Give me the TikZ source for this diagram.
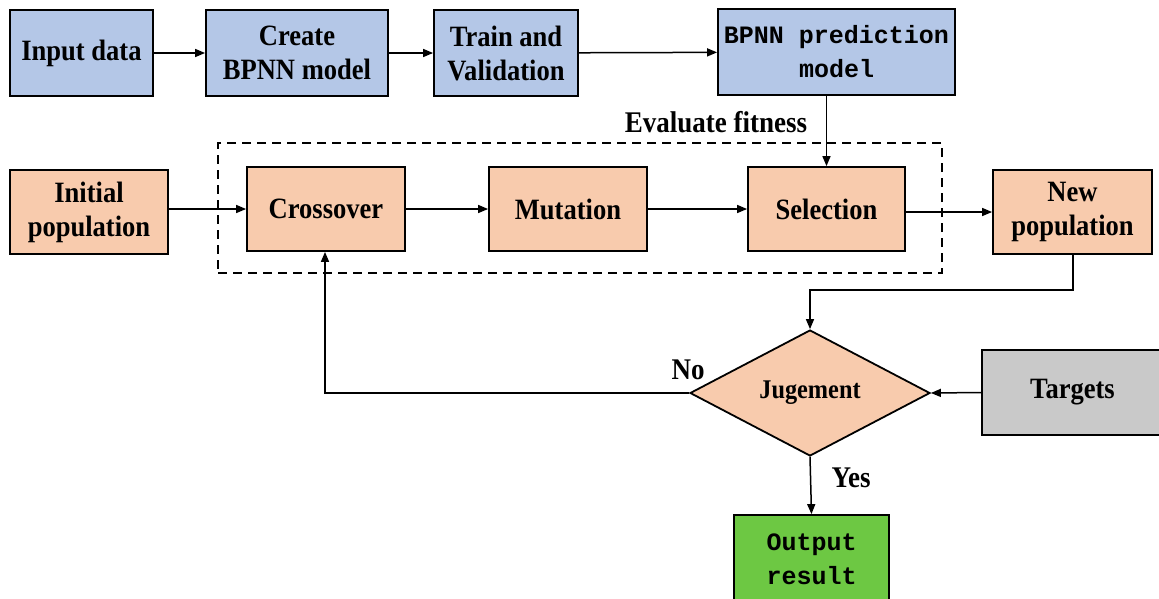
\documentclass[tikz,border=0pt]{standalone}
\usepackage{fontspec}
\setmainfont{Liberation Serif}[FakeStretch=0.9]
\newfontfamily\monofnt{Liberation Mono}
\usetikzlibrary{arrows.meta,shapes.geometric}
\definecolor{cblue}{HTML}{B4C7E7}
\definecolor{corange}{HTML}{F8CBAD}
\definecolor{cgrey}{HTML}{C9C9C9}
\definecolor{cgreen}{HTML}{6DC843}
\tikzset{
  box/.style={draw=black, line width=1.8pt, rectangle, align=center, inner sep=0pt,
    font=\fontsize{29.5}{34}\selectfont\bfseries},
  bluebox/.style={box, fill=cblue},
  orbox/.style={box, fill=corange},
  monotext/.style={font=\fontsize{25}{34}\selectfont\monofnt\bfseries},
  arr/.style={line width=1.5pt, -{Triangle[length=10pt,width=8pt]}},
  lbl/.style={font=\fontsize{30}{34}\selectfont\bfseries, inner sep=0pt}
}
\begin{document}
\begin{tikzpicture}[x=1pt,y=-1pt]
\useasboundingbox (0,0) rectangle (1159,598);
% top row
\node[bluebox, minimum width=143pt, minimum height=86pt] (in) at (81.5,53) {Input data};
\node[bluebox, minimum width=182pt, minimum height=86pt] (create) at (297,53) {Create\\BPNN model};
\node[bluebox, minimum width=144pt, minimum height=86pt] (train) at (506,53) {Train and\\Validation};
\node[bluebox, monotext, minimum width=237pt, minimum height=86pt] (bpnn) at (836.5,52) {BPNN prediction\\model};
% middle row
\node[draw, line width=1.5pt, minimum width=724pt, minimum height=130pt, dash pattern=on 9pt off 6pt] (group) at (580,208) {};
\node[lbl] (evalf) at (716,122) {Evaluate fitness};
\node[orbox, minimum width=158pt, minimum height=84pt] (init) at (89,212) {Initial\\population};
\node[orbox, minimum width=158pt, minimum height=84pt] (cross) at (326,209) {Crossover};
\node[orbox, minimum width=158pt, minimum height=84pt] (mut) at (568,209) {Mutation};
\node[orbox, minimum width=157pt, minimum height=84pt] (sel) at (826.5,209) {Selection};
\node[orbox, minimum width=159pt, minimum height=84pt] (newpop) at (1072.5,212) {New\\population};
% bottom
\node[diamond, draw=black, line width=1.8pt, fill=corange, minimum width=240pt, minimum height=126pt, inner sep=0pt,
  font=\fontsize{27}{30}\selectfont\bfseries] (judge) at (810,393) {Jugement};
\node[box, fill=cgrey, minimum width=181pt, minimum height=85pt] (targets) at (1072.5,392.5) {Targets};
\node[box, monotext, fill=cgreen, minimum width=155pt, minimum height=88pt] (out) at (811.5,559) {Output\\result};
\node[lbl] (no) at (688,370) {No};
\node[lbl] (yes) at (851,478) {Yes};
\coordinate (c1) at (1073,290);
\coordinate (c2) at (810,290);
\coordinate (c3) at (325,393);
% arrows
\draw[arr] (in) -- (create);
\draw[arr] (create) -- (train);
\draw[arr] (train) -- (bpnn);
\draw[arr] (sel.north |- bpnn.south) -- (sel.north);
\draw[arr] (init.east |- cross) -- (cross.west);
\draw[arr] (cross) -- (mut);
\draw[arr] (mut) -- (sel);
\draw[arr] (sel.east |- newpop) -- (newpop.west);
\draw[arr] (newpop.south -| c1) -- (c1) -- (c2) -- (judge.north);
\draw[arr] (targets.west) -- (judge.east);
\draw[arr] (judge.west) -- (c3) -- (cross.south -| c3);
\draw[arr] (judge.south) -- (out.north);
\end{tikzpicture}
\end{document}
